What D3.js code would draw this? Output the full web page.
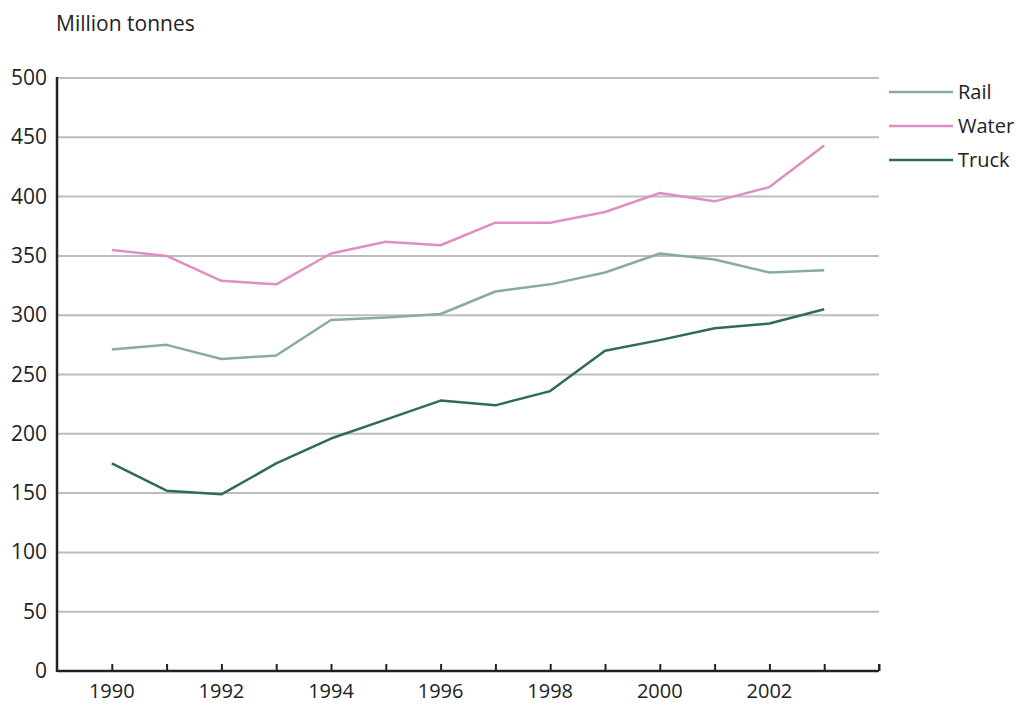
<!DOCTYPE html>
<html><head><meta charset="utf-8">
<script src="https://cdn.jsdelivr.net/npm/d3@7"></script>
<style>body{margin:0;background:#fff}text{font-family:"Open Sans",sans-serif;fill:#222}</style>
</head><body>
<svg id="c" width="1015" height="705"></svg>
<script>
const years = [1990,1991,1992,1993,1994,1995,1996,1997,1998,1999,2000,2001,2002,2003];
const rail  = [271,275,263,266,296,298,301,320,326,336,352,347,336,338];
const water = [355,350,329,326,352,362,359,378,378,387,403,396,408,443];
const truck = [175,152,149,175,196,212,228,224,236,270,279,289,293,305];
const yTicks = [0,50,100,150,200,250,300,350,400,450,500];
const xTickLabels = [1990,1992,1994,1996,1998,2000,2002];
const seriesNames = ["Rail","Water","Truck"];
const colors = ["#88ad99","#e08fc2","#2f6b56"];

const svg = d3.select("#c");
const x = d3.scaleLinear().domain([1989,2004]).range([57,879]);
const y = d3.scaleLinear().domain([0,500]).range([671,78]);

svg.append("g").selectAll("line").data(yTicks.filter(d=>d>0)).join("line")
  .attr("x1",57).attr("x2",879).attr("y1",d=>y(d)).attr("y2",d=>y(d))
  .attr("stroke","#bdbdbd").attr("stroke-width",2);

svg.append("g").selectAll("text").data(yTicks).join("text")
  .attr("x",47).attr("y",d=>y(d)+7).attr("text-anchor","end")
  .attr("font-size",21).text(d=>d);

const xAxis = d3.axisBottom(x).tickValues(d3.range(1990,2005)).tickSize(-7).tickFormat("");
const gx = svg.append("g").attr("transform","translate(0,671)").call(xAxis);
gx.select(".domain").attr("stroke","#222").attr("stroke-width",2.5).attr("d","M57,0H879");
gx.selectAll(".tick line").attr("stroke","#222").attr("stroke-width",2);
svg.append("line").attr("x1",879).attr("x2",879).attr("y1",671).attr("y2",664).attr("stroke","#222").attr("stroke-width",2);

svg.append("line").attr("x1",57).attr("x2",57).attr("y1",77).attr("y2",672).attr("stroke","#222").attr("stroke-width",2.5);

svg.append("g").selectAll("text").data(xTickLabels).join("text")
  .attr("x",d=>x(d)).attr("y",698).attr("text-anchor","middle")
  .attr("font-size",20).text(d=>d);

svg.append("text").attr("x",56).attr("y",31).attr("font-size",21).text("Million tonnes");

const line = d3.line().x((d,i)=>x(years[i])).y(d=>y(d));
[rail,water,truck].forEach((s,k)=>{
  svg.append("path").datum(s).attr("d",line).attr("fill","none")
    .attr("stroke",colors[k]).attr("stroke-width",2.5).attr("stroke-linejoin","round");
});

const lg = svg.append("g");
seriesNames.forEach((n,k)=>{
  const yy = 92 + k*34;
  lg.append("line").attr("x1",889).attr("x2",953).attr("y1",yy).attr("y2",yy)
    .attr("stroke",colors[k]).attr("stroke-width",2.5);
  lg.append("text").attr("x",958).attr("y",yy+7).attr("font-size",20).text(n);
});
</script>
</body></html>
